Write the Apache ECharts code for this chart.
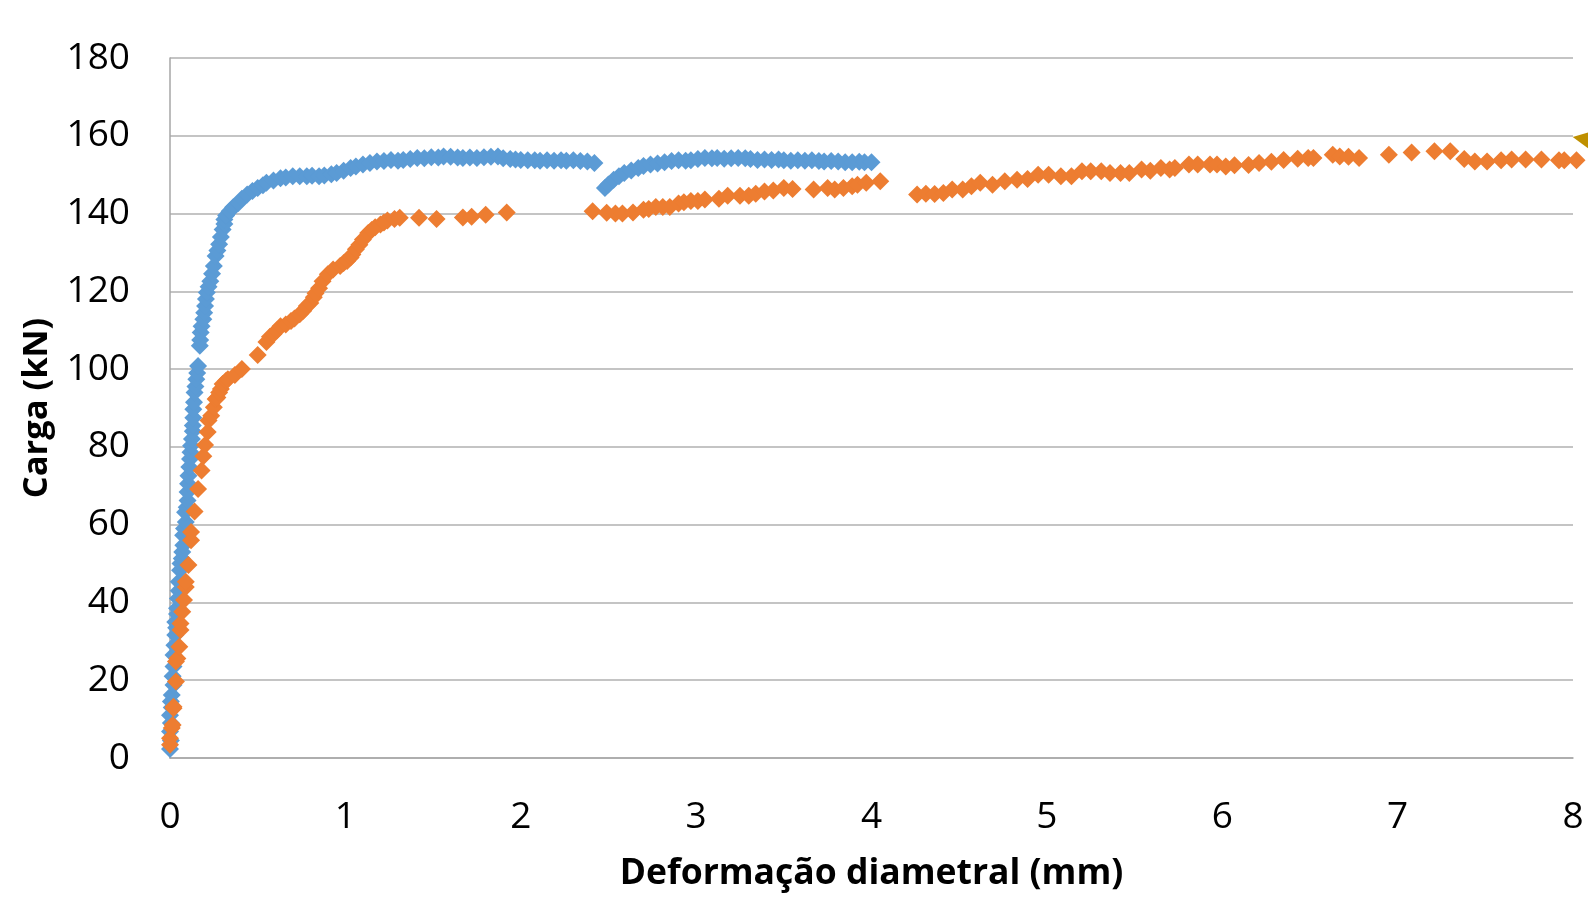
<!DOCTYPE html>
<html>
<head>
<meta charset="utf-8">
<script src="https://cdn.jsdelivr.net/npm/echarts@6/dist/echarts.min.js"></script>
<style>
html,body{margin:0;padding:0;background:#fff;}
#chart{width:1588px;height:897px;}
</style>
</head>
<body>
<div id="chart"></div>
<script>
const xTitle = 'Deformação diametral (mm)';
const yTitle = 'Carga (kN)';
const xTicks = [0, 1, 2, 3, 4, 5, 6, 7, 8];
const yTicks = [0, 20, 40, 60, 80, 100, 120, 140, 160, 180];

const seriesBlue = [
[0.0,2.3],[0.005,4.5],[0.0,6.8],[0.005,9],[0.0,11],[0.01,13],[0.005,14.5],[0.01,16.2],[0.02,18.8],[0.015,21],
[0.02,23.5],[0.02,26.5],[0.025,29],[0.03,31.6],[0.035,33.5],[0.03,35],[0.04,37],[0.04,38.5],[0.045,41],[0.05,43],
[0.05,45.3],[0.057,48.3],[0.06,50],[0.067,51.3],[0.07,53],[0.076,54.7],[0.075,57.3],[0.08,59],[0.09,60.7],[0.086,63.2],
[0.095,64.5],[0.1,66.2],[0.1,68.4],[0.103,70.5],[0.105,72.6],[0.11,74.8],[0.114,76.9],[0.117,78.6],[0.12,80.3],[0.125,82],
[0.13,84],[0.13,85.5],[0.133,87.5],[0.133,89.7],[0.137,91.5],[0.14,94],[0.145,95.5],[0.15,97.4],[0.155,99],[0.16,100.8],
[0.17,106],[0.172,107.5],[0.175,109.4],[0.18,111],[0.19,112.8],[0.195,114.5],[0.2,116.2],[0.205,118],[0.21,119.7],[0.22,121.2],
[0.23,122.6],[0.24,124.5],[0.25,126.5],[0.26,129.1],[0.27,130.5],[0.28,132.1],[0.29,134],[0.3,135.9],[0.31,137.3],[0.31,138.5],
[0.32,139.5],[0.34,140.6],[0.36,141.6],[0.39,142.7],[0.41,143.8],[0.44,144.9],[0.47,145.8],[0.5,146.6],[0.53,147.3],[0.55,147.9],
[0.59,148.5],[0.63,149.1],[0.66,149.3],[0.7,149.6],[0.74,149.6],[0.78,149.6],[0.81,149.7],[0.85,149.6],[0.88,149.8],[0.92,150.1],
[0.95,150.4],[0.99,151],[1.03,151.7],[1.06,152.1],[1.1,152.6],[1.14,153],[1.18,153.4],[1.22,153.5],[1.26,153.8],[1.3,153.6],
[1.33,153.8],[1.37,154],[1.41,154.3],[1.45,154.2],[1.49,154.5],[1.53,154.4],[1.56,154.7],[1.6,154.6],[1.64,154.4],[1.67,154.3],
[1.71,154.4],[1.75,154.3],[1.79,154.5],[1.83,154.6],[1.87,154.7],[1.9,154.2],[1.94,154],[1.97,153.9],[2.0,153.8],[2.04,153.7],
[2.08,153.7],[2.11,153.6],[2.15,153.7],[2.19,153.6],[2.23,153.7],[2.26,153.6],[2.3,153.7],[2.34,153.5],[2.38,153.4],[2.42,153],
[2.48,146.6],[2.5,147.5],[2.53,148.7],[2.56,149.6],[2.59,150.4],[2.63,151.1],[2.67,151.7],[2.7,152.2],[2.74,152.6],[2.78,152.9],
[2.82,153.2],[2.86,153.5],[2.9,153.7],[2.94,153.6],[2.97,153.7],[3.01,154],[3.05,154.3],[3.09,154.2],[3.12,154.3],[3.16,154.1],
[3.2,154.2],[3.24,154.3],[3.28,154.2],[3.31,154],[3.35,153.8],[3.39,153.9],[3.43,153.8],[3.47,153.9],[3.5,153.7],[3.54,153.6],
[3.58,153.7],[3.62,153.6],[3.66,153.7],[3.7,153.5],[3.73,153.4],[3.77,153.5],[3.81,153.4],[3.85,153.2],[3.89,153.2],[3.93,153.3],
[3.96,153.2],[4.0,153.2]
];

const seriesOrange = [
[0.0,3.4],[0.0,5.1],[0.01,7.7],[0.015,8.5],[0.02,12.8],[0.02,13.2],[0.034,19.7],[0.034,24.8],[0.042,25.6],[0.053,28.6],
[0.06,32.9],[0.06,34.6],[0.07,37.6],[0.08,40.6],[0.09,44],[0.09,45.3],[0.105,49.6],[0.12,56],[0.12,58.1],[0.14,63.4],
[0.16,69.2],[0.18,73.9],[0.19,77.6],[0.2,80.5],[0.215,83.8],[0.22,86.8],[0.235,88],[0.25,90.2],[0.26,92.3],[0.27,92.7],
[0.28,94],[0.29,94.9],[0.3,96.2],[0.32,97],[0.33,97.4],[0.37,98.5],[0.41,100],[0.5,103.6],[0.55,107],[0.57,108.3],
[0.59,109],[0.61,110],[0.63,111],[0.66,111.5],[0.69,112.4],[0.71,113],[0.74,114.1],[0.76,115],[0.78,116.2],[0.8,117],
[0.82,118.5],[0.83,119.5],[0.85,120.8],[0.87,122.6],[0.9,124.4],[0.93,125.6],[0.97,126.5],[0.99,127.3],[1.01,127.8],[1.03,128.7],
[1.04,129.5],[1.06,130.8],[1.08,132],[1.1,133.3],[1.13,135],[1.15,135.8],[1.17,136.5],[1.2,137.2],[1.22,137.7],[1.24,138.2],
[1.28,138.6],[1.31,138.9],[1.42,138.9],[1.52,138.6],[1.67,139],[1.72,139.2],[1.8,139.7],[1.92,140.3],
[2.41,140.6],[2.49,140.2],[2.54,140],[2.58,140],[2.64,140.3],[2.7,141],[2.73,141.2],[2.77,141.7],[2.81,141.7],[2.85,141.7],
[2.9,142.6],[2.93,142.9],[2.97,143.2],[3.01,143.2],[3.05,143.6],[3.13,143.8],[3.18,144.6],[3.25,144.6],[3.3,144.6],[3.34,145.1],
[3.39,145.7],[3.44,145.9],[3.5,146.6],[3.55,146.3],[3.67,146.2],[3.75,146.6],[3.79,146.2],[3.84,146.6],[3.89,147],[3.92,147.4],
[3.97,147.9],[4.05,148.3],
[4.26,144.9],[4.31,145.1],[4.36,145],[4.41,145.3],[4.46,146.2],[4.52,146.2],[4.57,147],[4.62,147.9],[4.69,147.4],[4.76,148.3],
[4.83,148.7],[4.89,148.9],[4.95,150],[5.01,150],[5.08,149.6],[5.14,149.6],[5.2,150.9],[5.25,150.9],[5.31,150.9],[5.36,150.4],
[5.42,150.4],[5.47,150.4],[5.54,151.3],[5.59,151],[5.65,151.7],[5.7,151.3],[5.73,151.7],[5.81,152.6],[5.86,152.6],[5.93,152.6],
[5.97,152.6],[6.02,152.1],[6.07,152.4],[6.15,152.5],[6.21,153],[6.28,153.3],[6.35,153.8],[6.43,154.1],[6.49,154.3],[6.52,154.3],
[6.63,155.1],[6.67,154.7],[6.72,154.6],[6.78,154.3],[6.95,155.1],[7.08,155.7],[7.21,156],[7.3,156],[7.38,154],[7.44,153.4],
[7.51,153.4],[7.59,153.7],[7.65,153.9],[7.73,153.9],[7.82,153.9],[7.92,153.7],[7.95,153.7],[8.02,153.7]
];

const seriesGold = [[8.06,159.2]];

const FONT = 'Open Sans';
const chart = echarts.init(document.getElementById('chart'), null, {renderer: 'canvas'});
chart.setOption({
  backgroundColor: '#ffffff',
  animation: false,
  grid: {left: 170, right: 15, top: 58, bottom: 137, containLabel: false},
  xAxis: {
    type: 'value', min: xTicks[0], max: xTicks[xTicks.length-1], interval: 1,
    name: xTitle, nameLocation: 'middle', nameGap: 98,
    nameTextStyle: {fontFamily: FONT, fontSize: 35.5, fontWeight: 'bold', color: '#000'},
    axisLine: {show: true, lineStyle: {color: '#A6A6A6', width: 1.5}},
    axisTick: {show: false},
    splitLine: {show: false},
    axisLabel: {fontFamily: FONT, fontSize: 37, color: '#000', margin: 41}
  },
  yAxis: {
    type: 'value', min: yTicks[0], max: yTicks[yTicks.length-1], interval: 20,
    name: yTitle, nameLocation: 'middle', nameGap: 115, nameRotate: 90,
    nameTextStyle: {fontFamily: FONT, fontSize: 34.5, fontWeight: 'bold', color: '#000'},
    axisLine: {show: true, lineStyle: {color: '#A6A6A6', width: 1.5}},
    axisTick: {show: false},
    splitLine: {show: true, lineStyle: {color: '#B0B0B0', width: 1.5}},
    axisLabel: {fontFamily: FONT, fontSize: 37, color: '#000', margin: 40, padding: [4, 0, 0, 0]}
  },
  series: [
    {type: 'scatter', data: seriesBlue, symbol: 'diamond', symbolSize: 18, clip: false,
     itemStyle: {color: '#5B9BD5', opacity: 1}},
    {type: 'scatter', data: seriesOrange, symbol: 'diamond', symbolSize: 18, clip: false,
     itemStyle: {color: '#ED7D31', opacity: 1}},
    {type: 'scatter', data: seriesGold, symbol: 'triangle', symbolSize: 22, symbolRotate: 80, clip: false,
     itemStyle: {color: '#BF9000', opacity: 1}}
  ]
});
</script>
</body>
</html>
